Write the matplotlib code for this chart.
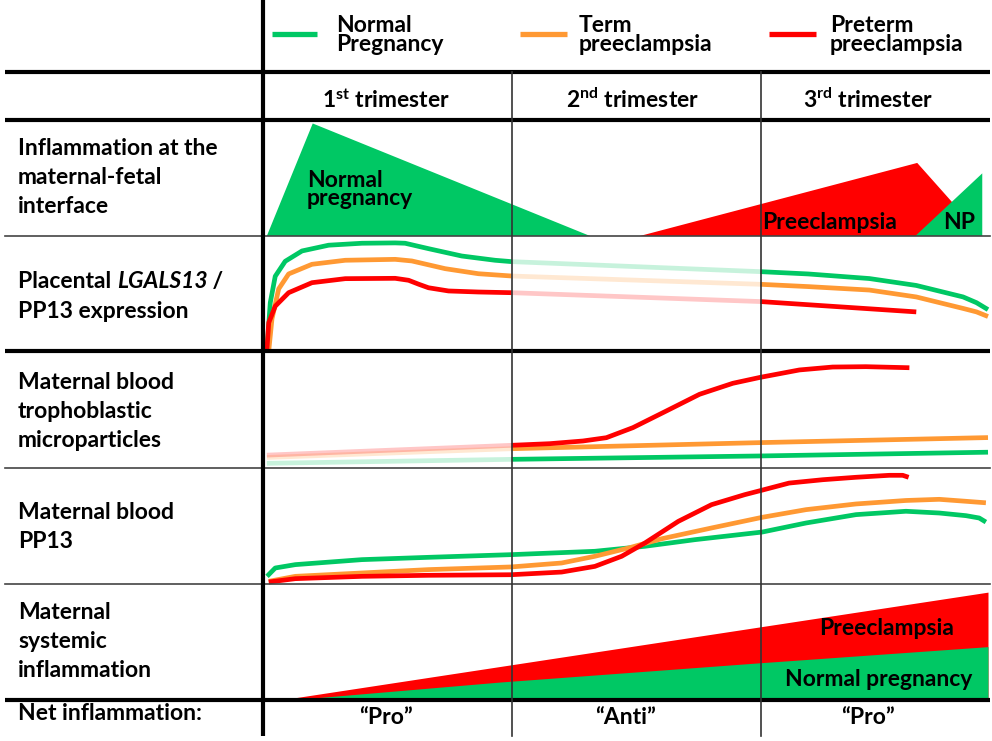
import matplotlib
matplotlib.use("Agg")
import matplotlib.pyplot as plt
import numpy as np

plt.rcParams['font.family'] = ['Lato', 'DejaVu Sans']
plt.rcParams['font.weight'] = 'bold'
plt.rcParams['mathtext.fontset'] = 'custom'
plt.rcParams['mathtext.rm'] = 'Lato:bold'
plt.rcParams['mathtext.it'] = 'Lato:italic:bold'
plt.rcParams['mathtext.bf'] = 'Lato:bold'

GREEN = '#00c864'
ORANGE = '#ff9933'
RED = '#ff0000'
TXT = '#000000'
FS = 16.5

# gestational weeks, trimester borders
T1_END, T2_END, T_MAX = 13, 26, 37.9

legend_labels = ['Normal\nPregnancy', 'Term\npreeclampsia', 'Preterm\npreeclampsia']
trimester_labels = ['1$^{\\mathrm{st}}$ trimester', '2$^{\\mathrm{nd}}$ trimester',
                    '3$^{\\mathrm{rd}}$ trimester']
row_labels = ['Inflammation at the\nmaternal-fetal\ninterface',
              None,  # built from pieces (italic gene name)
              'Maternal blood\ntrophoblastic\nmicroparticles',
              'Maternal blood\nPP13',
              'Maternal\nsystemic\ninflammation',
              'Net inflammation:']
net_labels = ['\u201cPro\u201d', '\u201cAnti\u201d', '\u201cPro\u201d']

# row 1: inflammation at the maternal-fetal interface (relative level 0-1)
np_iface_wk = [0.2, 2.6, 17.1]
np_iface_lvl = [0, 0.97, 0]
pe_iface_wk = [19.7, 34.2, 37.6]
pe_iface_lvl = [0, 0.63, 0]
np_late_wk = [34.1, 37.6, 37.6]
np_late_lvl = [0, 0.54, 0]

# row 2: placental LGALS13 / PP13 expression
lg_green_wk = [0.21, 0.38, 0.64, 1.16, 2.04, 3.43, 5.17, 6.91, 7.43, 8.65, 10.39, 12.13, 13,
               26, 28.5, 31.7, 34.15, 36.6, 37.3, 37.9]
lg_green_lvl = [0.015, 0.42, 0.65, 0.78, 0.87, 0.92, 0.937, 0.94, 0.937, 0.89, 0.826, 0.789, 0.777,
                0.69, 0.67, 0.63, 0.57, 0.47, 0.42, 0.36]
lg_orange_wk = [0.30, 0.47, 0.82, 1.34, 2.56, 4.30, 6.91, 7.78, 9.52, 11.26, 13,
                26, 28.5, 31.7, 34.15, 36.6, 37.3, 37.9]
lg_orange_lvl = [0.0, 0.28, 0.54, 0.67, 0.754, 0.789, 0.797, 0.783, 0.716, 0.672, 0.652,
                 0.58, 0.56, 0.53, 0.47, 0.37, 0.34, 0.30]
lg_red_wk = [0.2, 0.30, 0.64, 1.34, 2.56, 4.30, 6.91, 7.61, 8.15, 8.65, 9.70, 11.26, 13, 26, 34.15]
lg_red_lvl = [0.0, 0.246, 0.39, 0.507, 0.594, 0.629, 0.632, 0.615, 0.58, 0.55, 0.522, 0.513, 0.507, 0.43, 0.34]

# row 3: maternal blood trophoblastic microparticles
mp_green_wk = [0.2, 13, 26, 37.9]
mp_green_lvl = [0.04, 0.074, 0.103, 0.135]
mp_orange_wk = [0.2, 13, 26, 37.9]
mp_orange_lvl = [0.09, 0.165, 0.217, 0.26]
mp_red_wk = [0.2, 13, 15.0, 16.73, 17.95, 19.34, 21.08, 22.82, 24.56, 26.0, 28.04, 29.78, 31.52, 33.79]
mp_red_lvl = [0.11, 0.194, 0.208, 0.231, 0.259, 0.345, 0.487, 0.63, 0.724, 0.775, 0.838, 0.863, 0.866, 0.857]

# row 4: maternal blood PP13
pp_green_wk = [0.21, 0.64, 1.69, 5.17, 8.65, 12.97, 17.35, 19.96, 22.57, 26.1, 28.39, 31.0,
               33.61, 35.35, 36.75, 37.44, 37.79]
pp_green_lvl = [0.066, 0.138, 0.167, 0.21, 0.23, 0.253, 0.282, 0.325, 0.382, 0.448, 0.526, 0.598,
                0.627, 0.612, 0.589, 0.569, 0.534]
pp_orange_wk = [0.30, 1.69, 5.17, 8.65, 12.97, 15.61, 17.35, 19.1, 20.84, 23.45, 26.1, 28.39,
                31.0, 33.61, 35.35, 36.75, 37.79]
pp_orange_lvl = [0.023, 0.066, 0.095, 0.124, 0.147, 0.181, 0.239, 0.31, 0.39, 0.483, 0.575, 0.641,
                 0.69, 0.72, 0.73, 0.713, 0.70]
pp_red_wk = [0.30, 1.69, 5.17, 8.65, 12.97, 15.61, 17.35, 18.75, 19.96, 21.71, 23.45, 25.18, 26.0,
             27.5, 29.26, 31.0, 32.74, 33.44, 33.75]
pp_red_lvl = [0.017, 0.046, 0.066, 0.075, 0.08, 0.103, 0.152, 0.239, 0.353, 0.54, 0.684, 0.77, 0.805,
              0.87, 0.899, 0.92, 0.937, 0.937, 0.92]

# row 5: maternal systemic inflammation
pe_sys_wk = [0.9, 37.9]
pe_sys_lvl = [0, 0.93]
np_sys_wk = [1.4, 12.4, 25.9, 37.9]
np_sys_lvl = [0, 0.155, 0.32, 0.46]

W, H = 992, 741
fig = plt.figure(figsize=(W / 100, H / 100), dpi=100)

X0, X1 = 263, 988
rows_px = [(120, 236), (236, 351), (351, 468), (468, 584), (584, 700)]


def panel(top, bottom):
    ax = fig.add_axes([X0 / W, 1 - bottom / H, (X1 - X0) / W, (bottom - top) / H])
    ax.set_xlim(0, T_MAX)
    ax.set_ylim(0, 1)
    ax.axis('off')
    ax.patch.set_alpha(0)
    return ax


def curve(ax, wk, lvl, color, alpha=1.0):
    ax.plot(wk, lvl, color=color, lw=3.4, alpha=alpha, solid_capstyle='butt',
            solid_joinstyle='round', clip_on=False)


def staged(ax, wk, lvl, color, pale):
    # (start, end, pale?) pieces; pale where the trend is only inferred
    wk = np.asarray(wk, float)
    lvl = np.asarray(lvl, float)
    for a, b, is_pale in pale:
        m = (wk >= a) & (wk <= b)
        if m.sum() < 2:
            continue
        curve(ax, wk[m], lvl[m], color, 0.22 if is_pale else 1.0)


# row 1
ax = panel(*rows_px[0])
ax.fill(np_iface_wk, np_iface_lvl, color=GREEN, lw=0)
ax.fill(pe_iface_wk, pe_iface_lvl, color=RED, lw=0)
ax.fill(np_late_wk, np_late_lvl, color=GREEN, lw=0)
ax.text(2.3, 0.40, 'Normal\npregnancy', ha='left', va='center', fontsize=FS,
        color=TXT, linespacing=0.8)
ax.text(29.6, 0.12, 'Preeclampsia', ha='center', va='center', fontsize=FS, color=TXT)
ax.text(36.4, 0.12, 'NP', ha='center', va='center', fontsize=FS, color=TXT)

# row 2: pale through the 2nd trimester
ax = panel(*rows_px[1])
for wk, lvl, c in [(lg_green_wk, lg_green_lvl, GREEN),
                   (lg_orange_wk, lg_orange_lvl, ORANGE),
                   (lg_red_wk, lg_red_lvl, RED)]:
    staged(ax, wk, lvl, c, [(0, T1_END, False), (T1_END, T2_END, True), (T2_END, 99, False)])

# row 3: pale through the 1st trimester
ax = panel(*rows_px[2])
for wk, lvl, c in [(mp_green_wk, mp_green_lvl, GREEN),
                   (mp_orange_wk, mp_orange_lvl, ORANGE),
                   (mp_red_wk, mp_red_lvl, RED)]:
    staged(ax, wk, lvl, c, [(0, T1_END, True), (T1_END, 99, False)])

# row 4
ax = panel(*rows_px[3])
for wk, lvl, c in [(pp_green_wk, pp_green_lvl, GREEN),
                   (pp_orange_wk, pp_orange_lvl, ORANGE),
                   (pp_red_wk, pp_red_lvl, RED)]:
    curve(ax, wk, lvl, c)

# row 5
ax = panel(*rows_px[4])
ax.fill_between(pe_sys_wk, 0, pe_sys_lvl, color=RED, lw=0)
ax.fill_between(np_sys_wk, 0, np_sys_lvl, color=GREEN, lw=0)
ax.text(32.6, 0.62, 'Preeclampsia', ha='center', va='center', fontsize=FS, color=TXT)
ax.text(32.2, 0.18, 'Normal pregnancy', ha='center', va='center', fontsize=FS, color=TXT)

# grid, headings and labels on top
bg = fig.add_axes([0, 0, 1, 1], zorder=5)
bg.set_xlim(0, W)
bg.set_ylim(H, 0)
bg.axis('off')
bg.patch.set_alpha(0)

for y in [72, 120, 351, 700]:
    bg.plot([5, 990], [y, y], color='black', lw=3, solid_capstyle='butt')
for y in [236, 468, 584]:
    bg.plot([5, 990], [y, y], color='#444444', lw=1.2)
bg.plot([263, 263], [0, 736], color='black', lw=3, solid_capstyle='butt')
for x in [512, 761]:
    bg.plot([x, x], [72, 736], color='#333333', lw=1.2)

# legend
for (x0, x1, tx), c, lab in zip([(272, 317, 336), (520, 567, 579), (769, 816, 830)],
                               [GREEN, ORANGE, RED], legend_labels):
    bg.plot([x0, x1], [34, 34], color=c, lw=3.8, solid_capstyle='butt')
    bg.text(tx, 35, lab, ha='left', va='center', fontsize=FS, color=TXT, linespacing=0.9)

for cx, lab in zip([386, 633, 868], trimester_labels):
    bg.text(cx, 100, lab, ha='center', va='center', fontsize=FS, color=TXT)

for cy, lab in zip([177.5, 295, 411.5, 527, 641.5, 714], row_labels):
    if lab is None:
        continue
    bg.text(18, cy, lab, ha='left', va='center', fontsize=FS, color=TXT, linespacing=1.45)

# "Placental LGALS13 /" with the gene name in italics, then "PP13 expression"
t1 = bg.text(18, 288, 'Placental ', ha='left', va='baseline', fontsize=FS, color=TXT)
t2 = bg.annotate('LGALS13', xy=(1, 0), xycoords=t1, ha='left', va='bottom',
                 fontsize=FS, color=TXT, style='italic')
t3 = bg.annotate(' /', xy=(1, 0), xycoords=t2, ha='left', va='bottom', fontsize=FS, color=TXT)
bg.text(18, 318, 'PP13 expression', ha='left', va='baseline', fontsize=FS, color=TXT)

for cx, lab in zip([386, 626, 868], net_labels):
    bg.text(cx, 718, lab, ha='center', va='center', fontsize=FS, color=TXT)

fig.savefig('out.png', dpi=100)
